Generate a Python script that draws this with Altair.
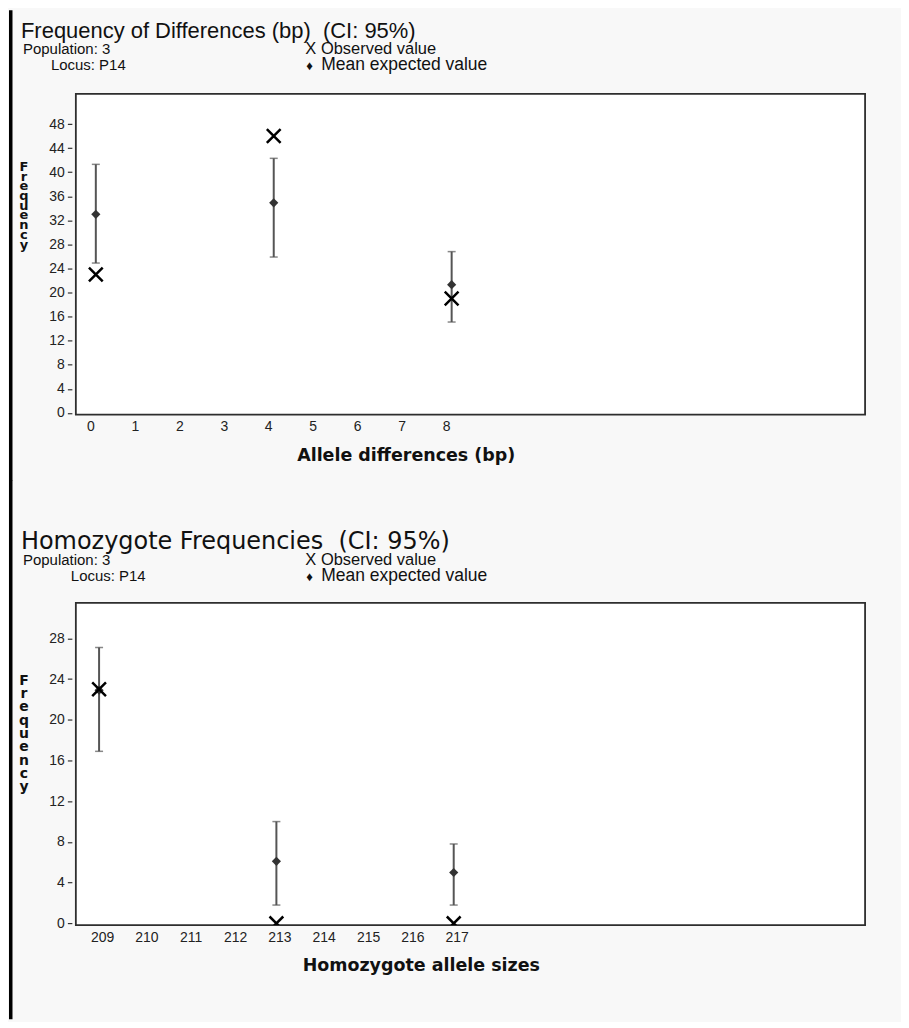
import altair as alt
import pandas as pd

# ---------------- data ----------------
diff_x = [0, 4, 8]
diff_mean = [33.0, 34.9, 21.3]
diff_lo = [24.9, 25.9, 15.1]
diff_hi = [41.3, 42.3, 26.8]
diff_obs = [23, 46, 19]
diff_xticks = [0, 1, 2, 3, 4, 5, 6, 7, 8]
diff_yticks = [0, 4, 8, 12, 16, 20, 24, 28, 32, 36, 40, 44, 48]

homo_x = [209, 213, 217]
homo_mean = [22.9, 6.1, 5.0]
homo_lo = [16.9, 1.8, 1.8]
homo_hi = [27.1, 10.0, 7.8]
homo_obs = [23, 0, 0]
homo_xticks = [209, 210, 211, 212, 213, 214, 215, 216, 217]
homo_yticks = [0, 4, 8, 12, 16, 20, 24, 28]

top_title = "Frequency of Differences (bp)\u00a0 (CI: 95%)"
bot_title = "Homozygote Frequencies\u00a0 (CI: 95%)"
pop_text = "Population: 3"
locus_text = "Locus: P14"
obs_text = "X Observed value"
diamond_text = "\u2666"
mean_text = "Mean expected value"
ylab = "F\nr\ne\nq\nu\ne\nn\nc\ny"
top_xtitle = "Allele differences (bp)"
bot_xtitle = "Homozygote allele sizes"

X_PATH = "M-1,-1L1,1M-1,1L1,-1"
LABEL_FONT = "Liberation Sans"
BOLD_FONT = "DejaVu Sans"
BG = "#f8f8f8"


def txt(s, x, y, size, font=LABEL_FONT, weight="normal", align="left", lh=None):
    kw = dict(align=align, baseline="alphabetic", font=font, fontSize=size,
              fontWeight=weight, color="#111")
    if lh is not None:
        kw.update(lineBreak="\n", lineHeight=lh)
    return alt.Chart(pd.DataFrame({"t": [s]})).mark_text(**kw).encode(
        text="t:N", x=alt.value(x), y=alt.value(y))


def build(which):
    if which == 0:
        xs, mean, lo, hi, obs = diff_x, diff_mean, diff_lo, diff_hi, diff_obs
        xticks, yticks = diff_xticks, diff_yticks
        xdom, ydom = [-0.449, 17.295], [-0.27, 53.0]
        ox, oy, W, H = 75.0, 92.0, 791.0, 321.3
        title, xtitle = top_title, top_xtitle
        title_font, title_size = "Liberation Sans", 22
        title_cx, label_off = 405.6, -5.5
        ylab_lh, ylab_y, ylab_size, locus_x = 9.75, 169.0, 13, 50
        head_y = [36, 52, 68]
        page_top, page_bottom = 8, 480
    else:
        xs, mean, lo, hi, obs = homo_x, homo_mean, homo_lo, homo_hi, homo_obs
        xticks, yticks = homo_xticks, homo_yticks
        xdom, ydom = [208.476, 226.28], [-0.167, 31.49]
        ox, oy, W, H = 75.0, 602.7, 791.0, 323.0
        title, xtitle = bot_title, bot_xtitle
        title_font, title_size = "DejaVu Sans", 24
        title_cx, label_off = 420.7, 3
        ylab_lh, ylab_y, ylab_size, locus_x = 13.3, 685.0, 14, 70
        head_y = [549, 565, 581]
        page_top, page_bottom = 480, 1020

    df = pd.DataFrame({"x": xs, "mean": mean, "lo": lo, "hi": hi, "obs": obs})
    xenc = alt.X("x:Q", scale=alt.Scale(domain=xdom, nice=False, zero=False),
                 axis=alt.Axis(values=xticks, format="d", ticks=False, domain=False,
                               grid=False, labelPadding=5, labelOffset=label_off,
                               labelFlush=False, labelOverlap=False,
                               labelFont=LABEL_FONT, labelFontSize=14,
                               labelColor="#222", title=xtitle,
                               titleFont=BOLD_FONT, titleFontSize=17.5,
                               titleFontWeight="bold", titleColor="#111",
                               titleX=title_cx - ox, titleY=46, titleAlign="center",
                               titleBaseline="alphabetic", titleAnchor="start"))
    yax = alt.Axis(values=yticks, format="d", domain=False, grid=False, offset=4,
                   tickSize=4.5, tickColor="#333", tickWidth=1.2, labelPadding=3,
                   labelFont=LABEL_FONT, labelFontSize=14, labelColor="#222",
                   labelOverlap=False, labelFlush=False, title=None)
    ysc = alt.Scale(domain=ydom, nice=False, zero=False)
    base = alt.Chart(df)
    bar = base.mark_rule(color="#555", strokeWidth=2).encode(
        x=xenc, y=alt.Y("lo:Q", scale=ysc, axis=yax), y2="hi:Q")
    cap_hi = base.mark_tick(orient="horizontal", size=8, thickness=1.5, color="#555").encode(
        x=xenc, y=alt.Y("hi:Q", scale=ysc, axis=yax))
    cap_lo = base.mark_tick(orient="horizontal", size=8, thickness=1.5, color="#555").encode(
        x=xenc, y=alt.Y("lo:Q", scale=ysc, axis=yax))
    pt = base.mark_point(shape="diamond", filled=True, size=85, color="#333", opacity=1).encode(
        x=xenc, y=alt.Y("mean:Q", scale=ysc, axis=yax))
    ob = base.mark_point(shape=X_PATH, filled=False, size=190, color="#000",
                         strokeWidth=2.5, opacity=1, clip=True).encode(
        x=xenc, y=alt.Y("obs:Q", scale=ysc, axis=yax))

    # layout scaffolding: window frame line and page extent (page coords -> panel coords)
    frame = alt.Chart(pd.DataFrame({"k": [0]})).mark_rect(color="#000").encode(
        x=alt.value(8 - ox), x2=alt.value(11.5 - ox),
        y=alt.value(page_top - oy), y2=alt.value(page_bottom - oy))
    extent = alt.Chart(pd.DataFrame({"k": [0]})).mark_rect(opacity=0).encode(
        x=alt.value(8 - ox), x2=alt.value(901 - ox),
        y=alt.value(page_top - oy), y2=alt.value(page_bottom - oy))

    texts = [
        txt(title, 20 - ox, head_y[0] - oy, title_size, font=title_font),
        txt(pop_text, 22 - ox, head_y[1] - oy, 15),
        txt(locus_text, locus_x - ox, head_y[2] - oy, 15),
        txt(obs_text, 305 - ox, head_y[1] - oy, 16.5),
        txt(diamond_text, 306 - ox, head_y[2] - oy, 13),
        txt(mean_text, 321 - ox, head_y[2] - oy, 17.5),
        txt(ylab, 23 - ox, ylab_y - oy, ylab_size, font=BOLD_FONT, weight="bold",
            align="center", lh=ylab_lh),
    ]
    return alt.layer(extent, frame, bar, cap_hi, cap_lo, pt, ob, *texts).properties(
        width=W, height=H)


chart = alt.vconcat(build(0), build(1), spacing=-3).properties(
    padding=0, background=BG
).configure_view(
    stroke="#2e2e2e", strokeWidth=1.8, fill="white"
)

chart.save("out.html", embed_options={"renderer": "svg", "actions": False})
